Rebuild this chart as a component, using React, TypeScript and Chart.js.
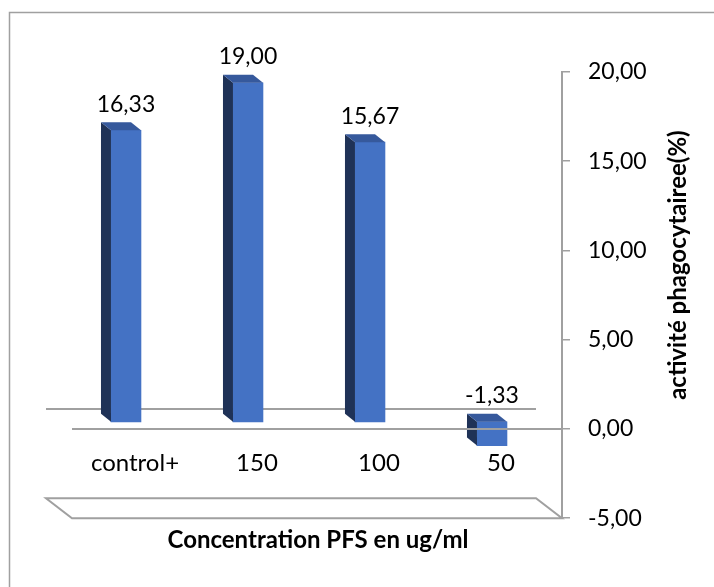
import React, { useEffect, useRef } from 'react';
import { Chart, registerables } from 'chart.js';

Chart.register(...registerables);

// ---- data ----
const categories = ['control+', '150', '100', '50'];
const values = [16.33, 19.0, 15.67, -1.33];
const yTicks = [-5, 0, 5, 10, 15, 20];
const xTitle = 'Concentration PFS en ug/ml';
const yTitle = 'activité phagocytairee(%)';

// ---- style ----
const FONT = 'Lato';
const GRAY = '#a0a0a0';
const FRONT = '#4472c4';
const SIDE = '#1f3257';
const TOP = '#36599c';
const BAR_DEPTH = { dx: 10, dy: 8 };
const FLOOR_DEPTH = { dx: 26, dy: 20 };
const BAR_LIFT = 0.4; // bars sit slightly behind the front edge (value units)
const BAR_SHIFT = 0.074; // and slightly to the left (category units)
const NUM_SIZE = 23;
const CAT_SIZE = 24;
const TITLE_SIZE = 24;

const fmt = (v: number) => Number(v).toFixed(2).replace('.', ',');

const threeD = {
  id: 'threeD',
  beforeDraw(chart: any) {
    const { ctx, width, height } = chart;
    ctx.save();
    ctx.fillStyle = '#ffffff';
    ctx.fillRect(0, 0, width, height);
    ctx.strokeStyle = GRAY;
    ctx.lineWidth = 1.5;
    ctx.beginPath();
    ctx.moveTo(9.5, height + 2);
    ctx.lineTo(9.5, 12.5);
    ctx.lineTo(width + 2, 12.5);
    ctx.stroke();
    ctx.restore();
  },
  beforeDatasetsDraw(chart: any) {
    const { ctx, chartArea: ca, scales } = chart;
    const y = scales.y;
    const y0 = y.getPixelForValue(0);
    const yb = y.getPixelForValue(y.min);
    const L = ca.left - 2;
    const R = ca.right;
    const { dx, dy } = FLOOR_DEPTH;
    ctx.save();
    ctx.strokeStyle = GRAY;
    ctx.lineWidth = 2;
    ctx.beginPath();
    ctx.moveTo(L, yb);
    ctx.lineTo(R, yb);
    ctx.lineTo(R - dx, yb - dy);
    ctx.lineTo(L - dx, yb - dy);
    ctx.closePath();
    ctx.stroke();
    ctx.beginPath();
    ctx.moveTo(L - dx, y0 - dy);
    ctx.lineTo(R - dx, y0 - dy);
    ctx.stroke();
    ctx.restore();
  },
  afterDatasetsDraw(chart: any) {
    const { ctx, chartArea: ca, scales } = chart;
    const meta = chart.getDatasetMeta(0);
    const { dx, dy } = BAR_DEPTH;
    ctx.save();
    meta.data.forEach((el: any, i: number) => {
      const { x, y, base, width } = el.getProps(['x', 'y', 'base', 'width'], true);
      const x0 = x - width / 2;
      const x1 = x + width / 2;
      const yt = Math.min(y, base);
      const yb = Math.max(y, base);
      ctx.fillStyle = SIDE;
      ctx.beginPath();
      ctx.moveTo(x0 - dx, yt - dy);
      ctx.lineTo(x0, yt);
      ctx.lineTo(x0, yb);
      ctx.lineTo(x0 - dx, yb - dy);
      ctx.closePath();
      ctx.fill();
      ctx.fillStyle = TOP;
      ctx.beginPath();
      ctx.moveTo(x0 - dx, yt - dy);
      ctx.lineTo(x1 - dx, yt - dy);
      ctx.lineTo(x1, yt);
      ctx.lineTo(x0, yt);
      ctx.closePath();
      ctx.fill();
      ctx.fillStyle = '#000';
      ctx.font = `${NUM_SIZE}px ${FONT}`;
      ctx.textAlign = 'center';
      ctx.textBaseline = 'middle';
      ctx.fillText(fmt(values[i]), x, yt - 26);
    });
    const y0 = scales.y.getPixelForValue(0);
    ctx.strokeStyle = GRAY;
    ctx.lineWidth = 2;
    ctx.beginPath();
    ctx.moveTo(ca.left - 2, y0);
    ctx.lineTo(ca.right, y0);
    ctx.stroke();
    ctx.restore();
  },
  afterDraw(chart: any) {
    const { ctx, chartArea: ca, scales } = chart;
    ctx.save();
    ctx.translate(scales.y.right + 26, (ca.top + ca.bottom) / 2 - 30);
    ctx.rotate(-Math.PI / 2);
    ctx.fillStyle = '#000';
    ctx.font = `bold ${TITLE_SIZE}px ${FONT}`;
    ctx.textAlign = 'center';
    ctx.textBaseline = 'middle';
    ctx.fillText(yTitle, 0, 0);
    ctx.restore();
  },
};

export default function App() {
  const ref = useRef<HTMLCanvasElement>(null);
  useEffect(() => {
    const canvas = ref.current!;
    const yMin = yTicks[0];
    const yMax = yTicks[yTicks.length - 1];
    const chart = new Chart(canvas, {
      type: 'bar',
      data: {
        labels: categories,
        datasets: [
          {
            data: values.map((v, i) => ({ x: i, y: v })) as any,
            xAxisID: 'x2',
            yAxisID: 'y2',
            backgroundColor: FRONT,
            borderWidth: 0,
            barThickness: 30,
          },
        ],
      },
      options: {
        responsive: false,
        animation: false,
        events: [],
        layout: { padding: { left: 74, top: 72, right: 62, bottom: 32 } },
        plugins: {
          legend: { display: false },
          tooltip: { enabled: false },
          title: {
            display: true,
            text: xTitle,
            position: 'bottom',
            fullSize: false,
            color: '#000',
            font: { family: FONT, size: TITLE_SIZE, weight: 'bold' },
            padding: { top: 8, bottom: 0 },
          },
        },
        scales: {
          x: {
            type: 'category',
            position: { y: 0 } as any,
            offset: true,
            grid: { display: false, drawTicks: false },
            border: { display: false },
            ticks: {
              font: { family: FONT, size: CAT_SIZE },
              color: '#000',
              padding: 20,
              maxRotation: 0,
              autoSkip: false,
            },
          },
          y: {
            type: 'linear',
            position: 'right',
            min: yMin,
            max: yMax,
            afterBuildTicks: (s: any) => {
              s.ticks = yTicks.map((v) => ({ value: v }));
            },
            afterFit: (s: any) => {
              s.width = 90;
            },
            ticks: {
              callback: (v: any) => fmt(v),
              font: { family: FONT, size: NUM_SIZE },
              color: '#000',
              padding: 18,
            },
            grid: {
              display: true,
              drawOnChartArea: false,
              drawTicks: true,
              tickLength: 8,
              color: GRAY,
              lineWidth: 1.5,
            },
            border: { display: true, color: GRAY, width: 2 },
          },
          x2: {
            type: 'linear',
            display: false,
            offset: false,
            min: -0.5 + BAR_SHIFT,
            max: categories.length - 0.5 + BAR_SHIFT,
          },
          y2: {
            type: 'linear',
            display: false,
            min: yMin - BAR_LIFT,
            max: yMax - BAR_LIFT,
          },
        },
      } as any,
      plugins: [threeD],
    });
    let alive = true;
    const fonts: any = (document as any).fonts;
    if (fonts && fonts.load) {
      Promise.all([
        fonts.load(`${NUM_SIZE}px ${FONT}`),
        fonts.load(`bold ${TITLE_SIZE}px ${FONT}`),
      ]).then(() => {
        if (alive) chart.update();
      });
    }
    return () => {
      alive = false;
      chart.destroy();
    };
  }, []);
  return (
    <div style={{ position: 'absolute', left: 0, top: 0, width: 714, height: 587 }}>
      <canvas ref={ref} width={714} height={587} style={{ width: 714, height: 587, display: 'block' }} />
    </div>
  );
}
